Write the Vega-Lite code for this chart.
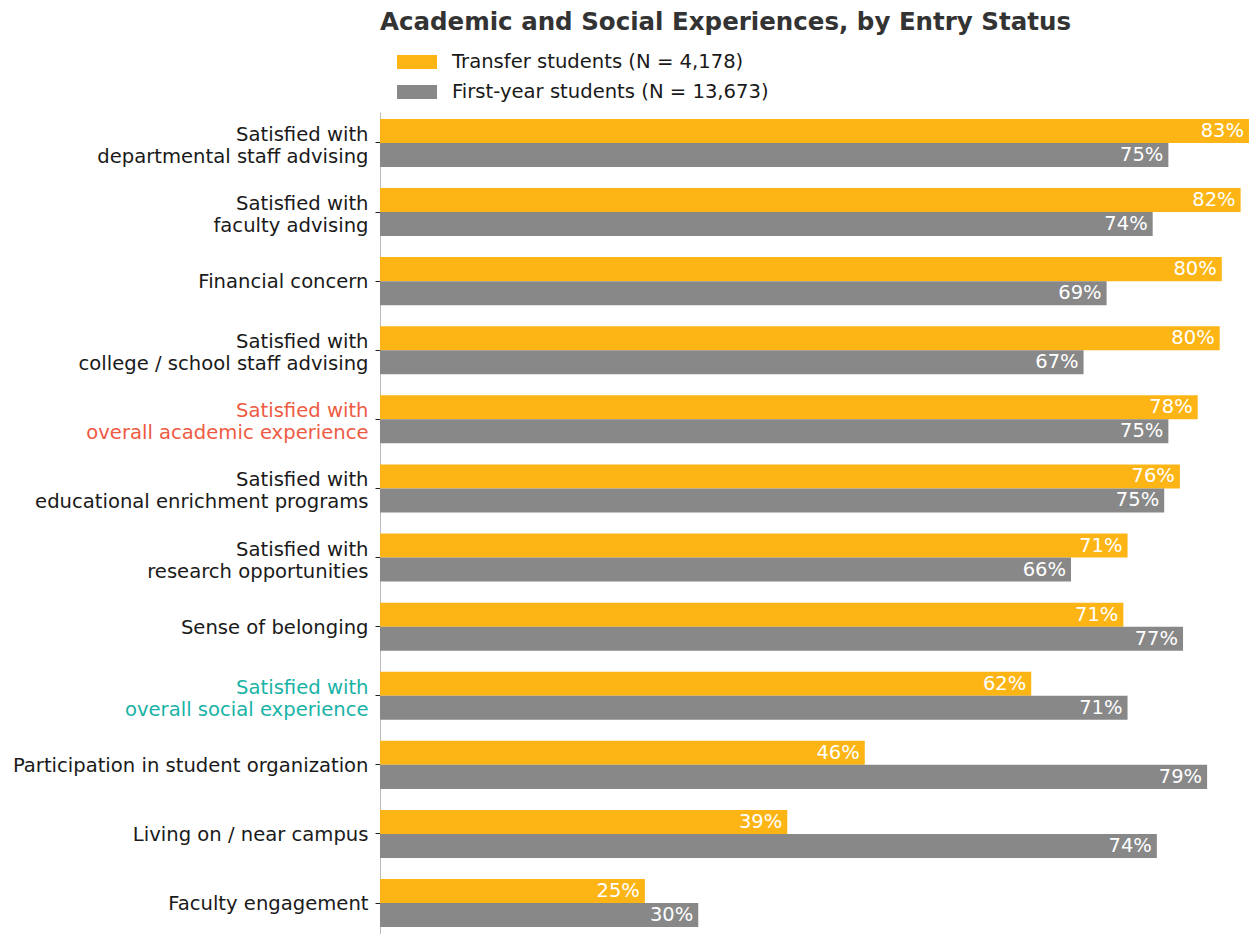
{
  "$schema": "https://vega.github.io/schema/vega-lite/v6.json",
  "autosize": {"type": "none"},
  "padding": {"left": 380, "top": 112, "right": 0, "bottom": 0},
  "width": 869,
  "height": 822,
  "background": "white",
  "config": {"font": "DejaVu Sans", "view": {"stroke": null}},
  "title": {
    "text": "Academic and Social Experiences, by Entry Status",
    "anchor": "start",
    "frame": "group",
    "fontSize": 24.5,
    "fontWeight": "bold",
    "color": "#333333",
    "font": "DejaVu Sans",
    "offset": 7
  },
  "data": {
    "values": [
      {"item": "Satisfied with|departmental staff advising", "group": "Transfer students (N = 4,178)", "pct": 83.0, "label": "83%"},
      {"item": "Satisfied with|departmental staff advising", "group": "First-year students (N = 13,673)", "pct": 75.3, "label": "75%"},
      {"item": "Satisfied with|faculty advising", "group": "Transfer students (N = 4,178)", "pct": 82.2, "label": "82%"},
      {"item": "Satisfied with|faculty advising", "group": "First-year students (N = 13,673)", "pct": 73.8, "label": "74%"},
      {"item": "Financial concern", "group": "Transfer students (N = 4,178)", "pct": 80.4, "label": "80%"},
      {"item": "Financial concern", "group": "First-year students (N = 13,673)", "pct": 69.4, "label": "69%"},
      {"item": "Satisfied with|college / school staff advising", "group": "Transfer students (N = 4,178)", "pct": 80.2, "label": "80%"},
      {"item": "Satisfied with|college / school staff advising", "group": "First-year students (N = 13,673)", "pct": 67.2, "label": "67%"},
      {"item": "Satisfied with|overall academic experience", "group": "Transfer students (N = 4,178)", "pct": 78.1, "label": "78%"},
      {"item": "Satisfied with|overall academic experience", "group": "First-year students (N = 13,673)", "pct": 75.3, "label": "75%"},
      {"item": "Satisfied with|educational enrichment programs", "group": "Transfer students (N = 4,178)", "pct": 76.4, "label": "76%"},
      {"item": "Satisfied with|educational enrichment programs", "group": "First-year students (N = 13,673)", "pct": 74.9, "label": "75%"},
      {"item": "Satisfied with|research opportunities", "group": "Transfer students (N = 4,178)", "pct": 71.4, "label": "71%"},
      {"item": "Satisfied with|research opportunities", "group": "First-year students (N = 13,673)", "pct": 66.0, "label": "66%"},
      {"item": "Sense of belonging", "group": "Transfer students (N = 4,178)", "pct": 71.0, "label": "71%"},
      {"item": "Sense of belonging", "group": "First-year students (N = 13,673)", "pct": 76.7, "label": "77%"},
      {"item": "Satisfied with|overall social experience", "group": "Transfer students (N = 4,178)", "pct": 62.2, "label": "62%"},
      {"item": "Satisfied with|overall social experience", "group": "First-year students (N = 13,673)", "pct": 71.4, "label": "71%"},
      {"item": "Participation in student organization", "group": "Transfer students (N = 4,178)", "pct": 46.3, "label": "46%"},
      {"item": "Participation in student organization", "group": "First-year students (N = 13,673)", "pct": 79.0, "label": "79%"},
      {"item": "Living on / near campus", "group": "Transfer students (N = 4,178)", "pct": 38.9, "label": "39%"},
      {"item": "Living on / near campus", "group": "First-year students (N = 13,673)", "pct": 74.2, "label": "74%"},
      {"item": "Faculty engagement", "group": "Transfer students (N = 4,178)", "pct": 25.3, "label": "25%"},
      {"item": "Faculty engagement", "group": "First-year students (N = 13,673)", "pct": 30.4, "label": "30%"}
    ]
  },
  "encoding": {
    "y": {
      "field": "item",
      "type": "nominal",
      "sort": null,
      "scale": {"paddingInner": 0.305, "paddingOuter": 0.1},
      "axis": {
        "title": null,
        "labelExpr": "split(datum.value, '|')",
        "labelFontSize": 19.6,
        "labelLineHeight": 22,
        "labelLimit": 400,
        "labelPadding": 7,
        "labelOffset": {
          "condition": {"test": "indexof(datum.value, '|') >= 0", "value": -8},
          "value": 1
        },
        "labelColor": {
          "condition": [
            {"test": "datum.value === 'Satisfied with|overall academic experience'", "value": "#EE5B43"},
            {"test": "datum.value === 'Satisfied with|overall social experience'", "value": "#19B3A6"}
          ],
          "value": "#1a1a1a"
        },
        "tickColor": "#222222",
        "tickSize": 5,
        "domainColor": "#bbbbbb",
        "domainWidth": 1,
        "grid": false
      }
    },
    "yOffset": {
      "field": "group",
      "type": "nominal",
      "sort": ["Transfer students (N = 4,178)", "First-year students (N = 13,673)"],
      "scale": {"paddingInner": 0, "paddingOuter": 0}
    },
    "x": {
      "field": "pct",
      "type": "quantitative",
      "scale": {"domain": [0, 83.0], "nice": false, "zero": true},
      "axis": null
    }
  },
  "layer": [
    {
      "mark": {"type": "bar", "cornerRadius": 0},
      "encoding": {
        "color": {
          "field": "group",
          "type": "nominal",
          "sort": ["Transfer students (N = 4,178)", "First-year students (N = 13,673)"],
          "scale": {"domain": ["Transfer students (N = 4,178)", "First-year students (N = 13,673)"], "range": ["#FDB515", "#888888"]},
          "legend": {
            "title": null,
            "orient": "none",
            "legendX": 17,
            "legendY": -70,
            "padding": 0,
            "symbolType": "M-1,-0.35H1V0.35H-1Z",
            "symbolSize": 1600,
            "symbolStrokeWidth": 0,
            "symbolOpacity": 1,
            "labelFontSize": 19.6,
            "labelColor": "#1a1a1a",
            "labelOffset": 15,
            "labelLimit": 500,
            "rowPadding": -11
          }
        }
      }
    },
    {
      "mark": {"type": "text", "align": "right", "baseline": "middle", "dx": -5, "fontSize": 19.5, "color": "white"},
      "encoding": {
        "text": {"field": "label"}
      }
    }
  ]
}
